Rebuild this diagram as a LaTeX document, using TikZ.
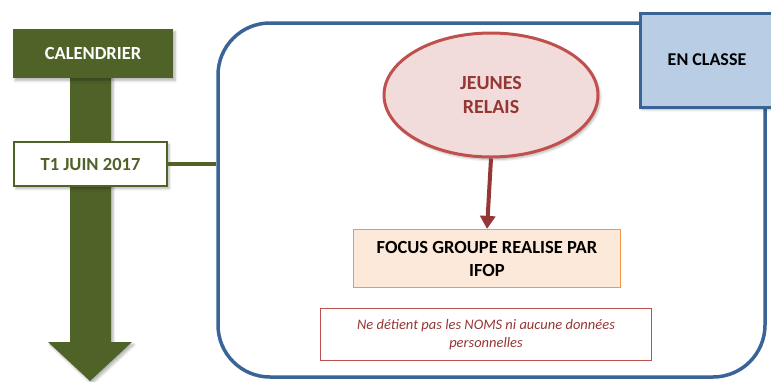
\documentclass[tikz,border=0pt]{standalone}
\usepackage{fontspec}
\setmainfont{Carlito}
\usetikzlibrary{shapes.geometric,arrows.meta,shadows.blur}
\definecolor{olive}{RGB}{79,98,40}
\definecolor{frameblue}{RGB}{58,99,150}
\definecolor{lightblue}{RGB}{185,205,229}
\definecolor{pinkfill}{RGB}{242,220,219}
\definecolor{redborder}{RGB}{192,80,77}
\definecolor{darkred}{RGB}{149,55,53}
\definecolor{peach}{RGB}{253,233,217}
\definecolor{orangeborder}{RGB}{247,150,70}
\tikzset{
  shd/.style={blur shadow={shadow xshift=2pt,shadow yshift=-2.5pt,shadow opacity=30,shadow blur steps=6,shadow blur radius=2.5pt}},
  calbox/.style={rectangle,fill=olive,text=white,font=\bfseries\fontsize{18.5}{22}\selectfont,minimum width=160pt,minimum height=49pt,inner sep=0pt,shd},
  datebox/.style={rectangle,fill=white,draw=olive,line width=2.5pt,text=olive,font=\bfseries\fontsize{18.5}{22}\selectfont,minimum width=153pt,minimum height=44pt,inner sep=0pt,shd},
  framebox/.style={rectangle,draw=frameblue,line width=3.5pt,rounded corners=52pt,minimum width=547pt,minimum height=354pt,inner sep=0pt},
  classbox/.style={rectangle,fill=lightblue,draw=frameblue,line width=3pt,font=\bfseries\fontsize{18}{22}\selectfont,minimum width=134pt,minimum height=94pt,inner sep=0pt,shd},
  relais/.style={ellipse,fill=pinkfill,draw=redborder,line width=3pt,text=darkred,font=\bfseries\fontsize{20}{24}\selectfont,align=center,minimum width=214pt,minimum height=124pt,inner sep=0pt,shd},
  focusbox/.style={rectangle,fill=peach,draw=orangeborder,line width=1.2pt,font=\bfseries\fontsize{18.5}{23}\selectfont,align=center,minimum width=267pt,minimum height=58pt,inner sep=0pt},
  notebox/.style={rectangle,fill=white,draw=redborder,line width=1pt,text=darkred,font=\itshape\fontsize{14.5}{18}\selectfont,align=center,minimum width=331pt,minimum height=52pt,inner sep=0pt},
  link/.style={draw=olive,line width=4.5pt},
  arr/.style={draw=darkred,line width=4pt,-{Triangle[width=15pt,length=13pt]}}
}
\begin{document}
\begin{tikzpicture}[x=1pt,y=-1pt]
\useasboundingbox (0,0) rectangle (771,381);
\clip (0,0) rectangle (771,381);
% timeline shaft with arrowhead
\coordinate (tip) at (90,381);
\fill[olive,shd] (70,70) -- (111,70) -- (111,342) -- (132,342) -- (tip) -- (48,342) -- (70,342) -- cycle;
\node[calbox] (cal) at (93,53.5) {CALENDRIER};
\node[datebox] (t1) at (90.5,164) {T1 JUIN 2017};
% big frame
\node[framebox] (frame) at (491.5,200) {};
\draw[link] (t1.east) -- (t1.east -| frame.west);
\node[classbox] (classe) at (707,60) {EN CLASSE};
\node[relais] (jeunes) at (491,95) {JEUNES\\RELAIS};
\node[focusbox] (focus) at (487,258.5) {FOCUS GROUPE REALISE PAR\\IFOP};
\draw[arr] (jeunes.south) -- (focus.north);
\node[notebox] (note) at (486,334.5) {Ne détient pas les NOMS ni aucune données\\personnelles};
\end{tikzpicture}
\end{document}
